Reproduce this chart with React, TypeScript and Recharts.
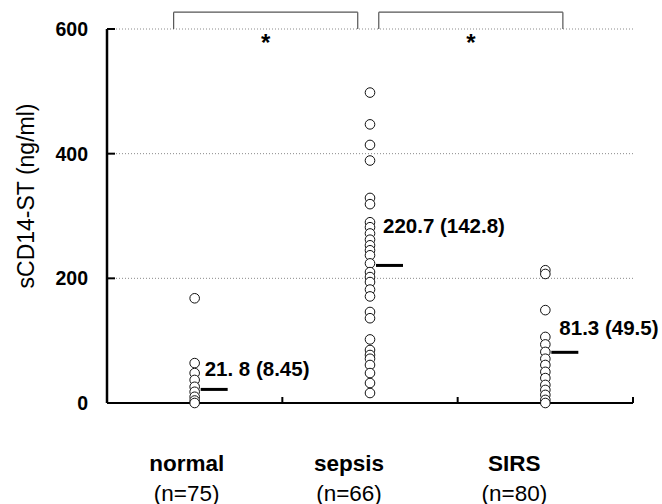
import {
  ScatterChart,
  Scatter,
  XAxis,
  YAxis,
  CartesianGrid,
  ReferenceLine,
  ReferenceDot,
} from "recharts";

const groups = ["normal", "sepsis", "SIRS"];
const groupN = ["(n=75)", "(n=66)", "(n=80)"];

// values (overlapping dots are merged)
const normalValues = [168, 64, 48, 37, 26, 18, 10, 4, 0];
const sepsisValues = [
  498, 447, 414, 389, 329, 319, 290, 282, 272, 262, 253, 245, 237, 224, 210,
  202, 194, 182, 171, 146, 136, 102, 85, 77, 71, 61, 48, 32, 16,
];
const sirsValues = [213, 207, 149, 106, 94, 82, 71, 61, 50, 40, 29, 21, 13, 5, 0];

const means = [21.8, 220.7, 81.3];
const meanLabels = ["21. 8 (8.45)", "220.7 (142.8)", "81.3 (49.5)"];

const yTicks = [0, 200, 400, 600];
const xTicks = [0, 0.5, 1, 1.5, 2, 2.5, 3];
const yTitle = "sCD14-ST (ng/ml)";

// significance brackets (x in group units)
const brackets = [
  { from: 0.38, to: 1.43, mark: "*" },
  { from: 1.55, to: 2.6, mark: "*" },
];

const FONT = '"Liberation Sans", Arial, Helvetica, sans-serif';
const labelShift = [-8, -21, -31];
const meanLabelDx = [10, 13, 14];
const meanLabelDy = [-21, -40, -25];

const allGroups = [normalValues, sepsisValues, sirsValues];
const pointData = allGroups.map((vals, i) => vals.map((v) => ({ x: i + 0.5, y: v })));
const meanData = means.map((m, i) => ({ x: i + 0.5, y: m, i, label: meanLabels[i] }));

function Dot(p: any) {
  return <circle cx={p.cx} cy={p.cy} r={4.8} fill="#fff" stroke="#111" strokeWidth={1} />;
}

function MeanMark(p: any) {
  const i = p.payload.i;
  return (
    <g>
      <line x1={p.cx + 6} x2={p.cx + 33} y1={p.cy} y2={p.cy} stroke="#000" strokeWidth={3} />
      <text
        x={p.cx + meanLabelDx[i]}
        y={p.cy + meanLabelDy[i]}
        dominantBaseline="central"
        fontFamily={FONT}
        fontWeight="bold"
        fontSize={20.5}
        fill="#000"
      >
        {p.payload.label}
      </text>
    </g>
  );
}

function XTick(p: any) {
  const v = p.payload.value;
  if (Number.isInteger(v)) {
    if (v === 0) return null;
    return <line x1={p.x} x2={p.x} y1={p.y} y2={p.y - 6} stroke="#000" strokeWidth={2} />;
  }
  const i = Math.floor(v);
  const x = p.x + labelShift[i];
  return (
    <g fontFamily={FONT} fill="#000" textAnchor="middle">
      <text x={x} y={p.y + 60} dominantBaseline="central" fontWeight="bold" fontSize={22.5}>
        {groups[i]}
      </text>
      <text x={x} y={p.y + 90} dominantBaseline="central" fontSize={22.5}>
        {groupN[i]}
      </text>
    </g>
  );
}

function YTick(p: any) {
  return (
    <g>
      <line x1={p.x} x2={p.x + 8} y1={p.y} y2={p.y} stroke="#000" strokeWidth={2} />
      <text
        x={p.x - 19}
        y={p.y}
        textAnchor="end"
        dominantBaseline="central"
        fontFamily={FONT}
        fontWeight="bold"
        fontSize={19.5}
        fill="#000"
      >
        {p.payload.value}
      </text>
    </g>
  );
}

function YTitle(p: any) {
  const vb = p.viewBox;
  const cx = vb.x + 19;
  const cy = vb.y + 167;
  return (
    <text
      x={cx}
      y={cy}
      transform={`rotate(-90, ${cx}, ${cy})`}
      textAnchor="middle"
      dominantBaseline="central"
      fontFamily={FONT}
      fontSize={23}
      fill="#000"
    >
      {yTitle}
    </text>
  );
}

function Star(p: any) {
  return (
    <text
      x={p.cx}
      y={p.cy + 13}
      textAnchor="middle"
      fontFamily={FONT}
      fontWeight="bold"
      fontSize={24}
      fill="#000"
    >
      {p.mark}
    </text>
  );
}

export default function App() {
  return (
    <div style={{ position: "absolute", left: 0, top: 0, background: "#fff" }}>
      <ScatterChart width={662} height={504} margin={{ top: 29, right: 29, left: 7, bottom: 0 }}>
        <CartesianGrid vertical={false} stroke="#8a8a8a" strokeDasharray="1 2" />
        <XAxis
          dataKey="x"
          type="number"
          domain={[0, 3]}
          ticks={xTicks}
          interval={0}
          height={101}
          tickSize={0}
          tickMargin={0}
          tickLine={false}
          tick={<XTick />}
          axisLine={{ stroke: "#000", strokeWidth: 2 }}
        />
        <YAxis
          dataKey="y"
          type="number"
          domain={[0, 600]}
          ticks={yTicks}
          interval={0}
          width={100}
          tickSize={0}
          tickMargin={0}
          tickLine={false}
          tick={<YTick />}
          axisLine={{ stroke: "#000", strokeWidth: 2.5 }}
          label={{ content: (p: any) => <YTitle {...p} /> }}
        />
        {brackets.map((b, k) => (
          <ReferenceLine
            key={"b" + k}
            ifOverflow="visible"
            stroke="#555"
            strokeWidth={1.2}
            segment={[
              { x: b.from, y: 600 },
              { x: b.from, y: 627 },
            ]}
          />
        ))}
        {brackets.map((b, k) => (
          <ReferenceLine
            key={"t" + k}
            ifOverflow="visible"
            stroke="#555"
            strokeWidth={1.2}
            segment={[
              { x: b.from, y: 627 },
              { x: b.to, y: 627 },
            ]}
          />
        ))}
        {brackets.map((b, k) => (
          <ReferenceLine
            key={"r" + k}
            ifOverflow="visible"
            stroke="#555"
            strokeWidth={1.2}
            segment={[
              { x: b.to, y: 600 },
              { x: b.to, y: 627 },
            ]}
          />
        ))}
        {brackets.map((b, k) => (
          <ReferenceDot
            key={"s" + k}
            x={(b.from + b.to) / 2}
            y={586}
            ifOverflow="visible"
            shape={(p: any) => <Star {...p} mark={b.mark} />}
          />
        ))}
        {pointData.map((d, i) => (
          <Scatter key={groups[i]} data={d} shape={<Dot />} isAnimationActive={false} />
        ))}
        <Scatter data={meanData} shape={<MeanMark />} isAnimationActive={false} />
      </ScatterChart>
    </div>
  );
}
